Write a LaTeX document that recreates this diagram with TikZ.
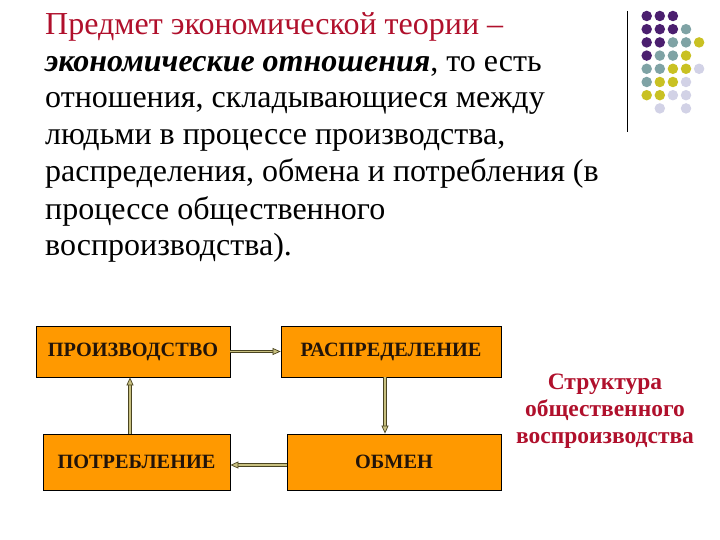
\documentclass[tikz,border=0pt]{standalone}
\usepackage{fontspec}
\setmainfont{Liberation Serif}
\usetikzlibrary{arrows.meta}
\definecolor{titlered}{HTML}{B0102C}
\definecolor{boxorange}{HTML}{FF9900}
\definecolor{boxtext}{HTML}{22140A}
\definecolor{arrowfill}{HTML}{C8C080}
\definecolor{arrowline}{HTML}{4A4420}
\definecolor{dotP}{HTML}{4B1F6F}
\definecolor{dotT}{HTML}{7FA3A5}
\definecolor{dotY}{HTML}{C9C123}
\definecolor{dotL}{HTML}{D2D2E6}
\tikzset{
  bodytext/.style={anchor=base west, inner sep=0pt, font=\fontsize{32}{32}\selectfont, text=black},
  stagebox/.style={draw=black, line width=0.8pt, fill=boxorange, text=boxtext, inner sep=0pt,
    font=\fontsize{20.3}{20.3}\selectfont\bfseries},
  conn/.style={draw=arrowline, line width=0.7pt, double=arrowfill, double distance=1.8pt,
    -{Triangle[length=8pt,width=7pt,fill=arrowfill]}},
  sidetext/.style={align=center, text=titlered, inner sep=0pt,
    font=\fontsize{23.5}{27}\selectfont\bfseries},
  decodot/.style={circle, inner sep=0pt, minimum size=10.5pt}
}
\begin{document}
\begin{tikzpicture}[x=1pt,y=-1pt]
\useasboundingbox (0,0) rectangle (720,540);
% body text
\node[bodytext, text=titlered] (l1) at (45,34.5) {Предмет экономической теории –};
\node[bodytext] (l2) at (45,71.5) {\textbf{\textit{экономические отношения}}, то есть};
\node[bodytext] (l3) at (45,108) {отношения, складывающиеся между};
\node[bodytext] (l4) at (45,145) {людьми в процессе производства,};
\node[bodytext] (l5) at (45,182) {распределения, обмена и потребления (в};
\node[bodytext] (l6) at (45,219) {процессе общественного};
\node[bodytext] (l7) at (45,255.5) {воспроизводства).};
% decoration
\draw[line width=0.8pt] (627,11) coordinate (vtop) -- (627,132) coordinate (vbot);
\foreach \c/\r/\col in {
 0/0/dotP,1/0/dotP,2/0/dotP,
 0/1/dotP,1/1/dotP,2/1/dotP,3/1/dotT,
 0/2/dotP,1/2/dotP,2/2/dotT,3/2/dotT,4/2/dotY,
 0/3/dotP,1/3/dotT,2/3/dotT,3/3/dotY,
 0/4/dotT,1/4/dotT,2/4/dotY,3/4/dotY,4/4/dotL,
 0/5/dotT,1/5/dotY,2/5/dotY,3/5/dotL,
 0/6/dotY,1/6/dotY,2/6/dotL,3/6/dotL,
 1/7/dotL,3/7/dotL}
 \node[decodot, fill=\col] (d\c\r) at ({646.7+13.1*\c},{16+13.2*\r}) {};
% boxes
\node[stagebox, minimum width=194pt, minimum height=51pt] (prod) at (133,351.5) {ПРОИЗВОДСТВО};
\node[stagebox, minimum width=220pt, minimum height=51pt] (distr) at (391,351.5) {РАСПРЕДЕЛЕНИЕ};
\node[stagebox, minimum width=214pt, minimum height=56pt] (exch) at (394,462) {ОБМЕН};
\node[stagebox, minimum width=187pt, minimum height=56pt] (cons) at (136.5,462) {ПОТРЕБЛЕНИЕ};
% connectors
\draw[conn] (prod.east) -- (distr.west);
\draw[conn] ([xshift=-6pt]distr.south) -- ([xshift=-9pt]exch.north);
\draw[conn] ([yshift=-3pt]exch.west) -- ([yshift=-3pt]cons.east);
\draw[conn] ([xshift=-6.5pt]cons.north) -- ([xshift=-3pt]prod.south);
% side text
\node[sidetext] (side) at (605,411) {Структура\\общественного\\воспроизводства};
\end{tikzpicture}
\end{document}
